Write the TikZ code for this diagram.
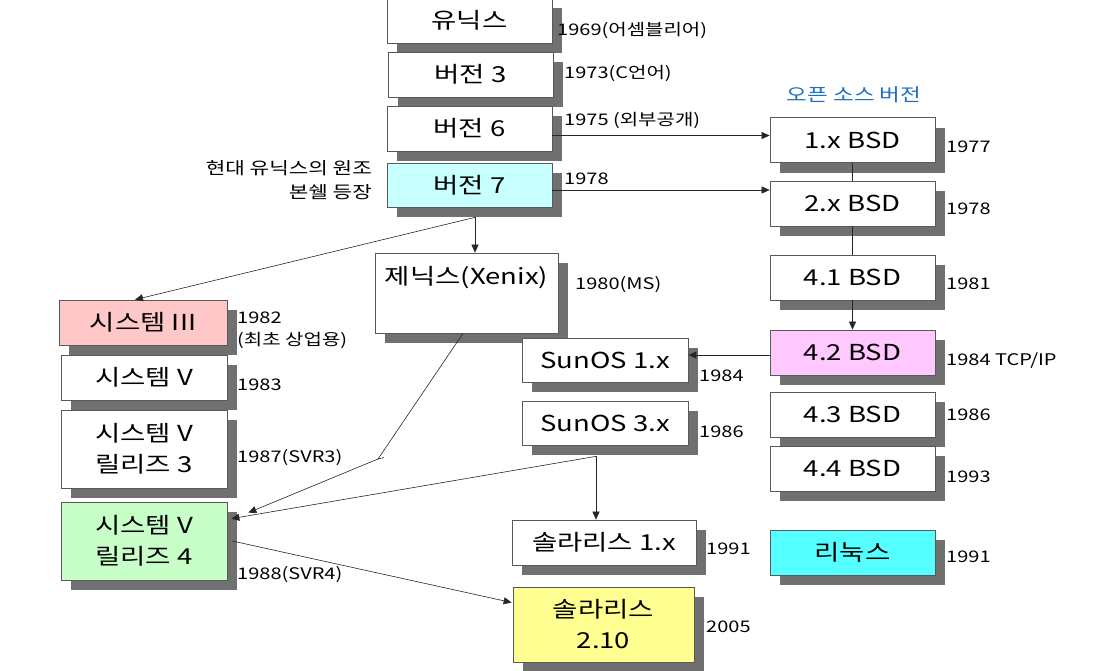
\documentclass[tikz,border=0pt]{standalone}
\usepackage{fontspec}
\setmainfont[FakeStretch=1.25]{Noto Sans CJK KR}
\newfontfamily\krfont[FakeStretch=1.25]{Noto Sans CJK KR}
\usetikzlibrary{shadows,arrows.meta,calc}
\definecolor{shadowgray}{RGB}{112,112,112}
\definecolor{vsevenfill}{RGB}{200,255,255}
\definecolor{bsdpink}{RGB}{255,200,255}
\definecolor{linuxcyan}{RGB}{85,255,255}
\definecolor{sysIIIpink}{RGB}{255,200,200}
\definecolor{svrgreen}{RGB}{200,255,200}
\definecolor{solyellow}{RGB}{255,255,145}
\definecolor{headblue}{RGB}{30,112,192}
\newcommand{\boxfont}{\krfont\fontsize{22}{31}\selectfont}
\newcommand{\yrfont}{\krfont\fontsize{16}{22}\selectfont}
\begin{document}
\begin{tikzpicture}[x=1pt,y=-1pt,
  box/.style={draw=black!65, line width=0.7pt, fill=white, inner sep=0pt,
    minimum width=165pt, minimum height=45pt, font=\boxfont, align=center,
    drop shadow={shadow xshift=10pt, shadow yshift=-10pt, fill=shadowgray, opacity=1}},
  yr/.style={anchor=west, inner sep=0pt, font=\yrfont},
  arr/.style={draw=black!85, line width=0.6pt, -{Triangle[length=8pt,width=7pt]}},
  ln/.style={draw=black!85, line width=0.6pt}]
\useasboundingbox (0,0) rectangle (1102,670);

% central column
\node[box] (unix) at (469.5,20.5) {유닉스};
\node[box] (v3) at (470.5,74.5) {버전 3};
\node[box] (v6) at (469.5,128.5) {버전 6};
\node[box, fill=vsevenfill, minimum height=44pt] (v7) at (469.5,185) {버전 7};
\node[anchor=east, align=right, inner sep=0pt, font=\krfont\fontsize{17}{24}\selectfont] (v7note) at (372,180) {현대 유닉스의 원조\\본쉘 등장};

% BSD column
\node[inner sep=0pt, font=\krfont\fontsize{18}{20}\selectfont, text=headblue] (head) at (854,95) {오픈 소스 버전};
\node[box] (bsd1) at (852.5,140) {1.x BSD};
\node[box] (bsd2) at (852.5,203.5) {2.x BSD};
\node[box] (bsd41) at (852.5,277.5) {4.1 BSD};
\node[box, fill=bsdpink] (bsd42) at (852.5,352.5) {4.2 BSD};
\node[box] (bsd43) at (852.5,414.5) {4.3 BSD};
\node[box] (bsd44) at (852.5,468.5) {4.4 BSD};
\node[box, fill=linuxcyan] (linux) at (852.5,552.5) {리눅스};

% middle
\node[box, minimum width=183pt, minimum height=80pt] (xenix) at (466.5,293) {};
\node[inner sep=0pt, font=\boxfont] (xenixtxt) at (466.5,278) {제닉스(Xenix)};
\node[box, minimum width=166pt, minimum height=44pt] (sun1) at (605,360) {SunOS 1.x};
\node[box, minimum width=166pt, minimum height=44pt] (sun3) at (605,423) {SunOS 3.x};
\node[box, minimum width=184pt] (sol1) at (604,542.5) {솔라리스 1.x};
\node[box, fill=solyellow, minimum width=181pt, minimum height=75pt] (sol210) at (603.5,624.5) {솔라리스\\2.10};

% left
\node[box, fill=sysIIIpink, minimum width=168pt] (sys3) at (143,322.5) {시스템 III};
\node[box, minimum width=166pt] (sysv) at (144,377.5) {시스템 V};
\node[box, minimum width=166pt, minimum height=78pt] (svr3) at (144,449) {시스템 V\\릴리즈 3};
\node[box, fill=svrgreen, minimum width=166pt, minimum height=78pt] (svr4) at (144,541) {시스템 V\\릴리즈 4};

% year labels
\node[yr] (y69) at (557,30) {1969(어셈블리어)};
\node[yr] (y73) at (564,73) {1973(C언어)};
\node[yr] (y75) at (564,120) {1975 (외부공개)};
\node[yr] (y78) at (564,179) {1978};
\node[yr] (b77) at (946,147) {1977};
\node[yr] (b78) at (946,209) {1978};
\node[yr] (b81) at (946,284) {1981};
\node[yr] (b84) at (946,361) {1984 TCP/IP};
\node[yr] (b86) at (946,415) {1986};
\node[yr] (b93) at (946,477) {1993};
\node[yr] (l91) at (946,557) {1991};
\node[yr] (x80) at (575,285) {1980(MS)};
\node[yr] (s84) at (699,376) {1984};
\node[yr] (s86) at (699,432) {1986};
\node[yr] (o91) at (706,549) {1991};
\node[yr] (o05) at (706,627) {2005};
\node[yr] (c82) at (237,318) {1982};
\node[yr] (c82b) at (237,340) {(최초 상업용)};
\node[yr] (c83) at (237,385) {1983};
\node[yr] (c87) at (237,458) {1987(SVR3)};
\node[yr] (c88) at (237,575) {1988(SVR4)};

% connectors
\draw[arr] (v6.east |- 0,135.5) -- (bsd1.west |- 0,135.5);
\draw[arr] (v7.east |- 0,190) -- (bsd2.west |- 0,190);
\draw[ln] (bsd1.south) -- (bsd2.north);
\draw[ln] (bsd2.south) -- (bsd41.north);
\draw[arr] (bsd41.south) -- (bsd42.north);
\draw[arr] (bsd42.west |- 0,355) -- (sun1.east |- 0,355);

\coordinate (v7b) at ($(v7.south)+(5.5,10)$);
\draw[arr] (v7b) -- (xenix.north -| v7b);
\draw[arr] (v7b) -- ($(sys3.north)+(-8,0)$);

\coordinate (kink) at (378,459);
\draw[ln] ($(xenix.south)+(-3.5,0)$) -- (kink) -- ++(6,-1.5);
\draw[arr] (kink) -- ($(svr4.north east)+(21,11)$);

\coordinate (s3b) at ($(sun3.south)+(-9,11)$);
\draw[arr] (s3b) -- (sol1.north -| s3b);
\draw[arr] (s3b) -- ($(svr4.north east)+(4,17)$);
\draw[arr] ($(svr4.east)+(5,0)$) -- ($(sol210.west)+(-1,-22)$);
\end{tikzpicture}
\end{document}
